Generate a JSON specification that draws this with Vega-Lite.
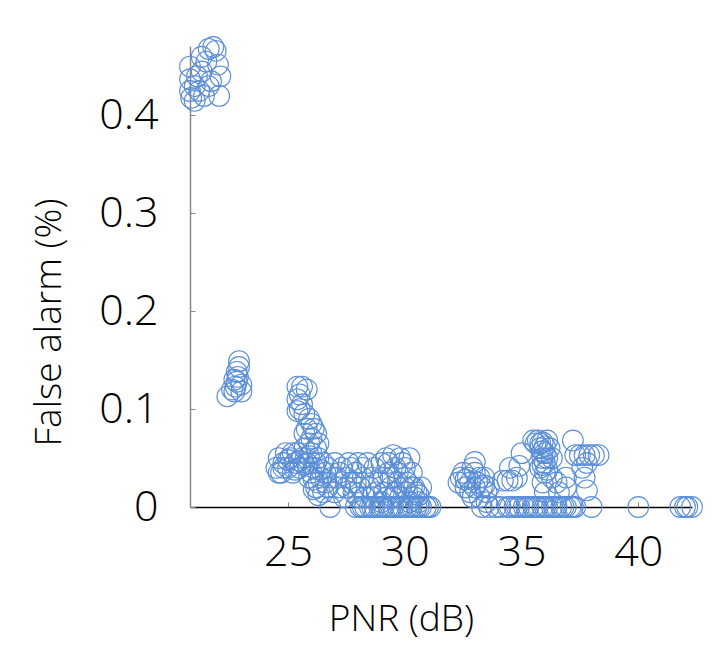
{
  "$schema": "https://vega.github.io/schema/vega-lite/v6.json",
  "width": 502,
  "height": 461,
  "autosize": "none",
  "padding": {"left": 190, "top": 46, "right": 31, "bottom": 139},
  "background": "white",
  "config": {"view": {"stroke": null}, "font": "Open Sans"},
  "data": {"values": [
    {"x":20.8,"y":0.45},{"x":20.8,"y":0.437},{"x":20.8,"y":0.425},{"x":20.85,"y":0.418},{"x":21.0,"y":0.43},{"x":21.1,"y":0.44},{"x":21.2,"y":0.425},{"x":21.3,"y":0.445},{"x":21.4,"y":0.42},{"x":21.5,"y":0.455},{"x":21.6,"y":0.468},{"x":21.8,"y":0.47},{"x":21.9,"y":0.466},{"x":22.0,"y":0.452},{"x":22.1,"y":0.44},{"x":22.05,"y":0.42},{"x":21.7,"y":0.435},{"x":21.0,"y":0.415},{"x":21.3,"y":0.46},{"x":21.6,"y":0.43},
    {"x":22.4,"y":0.113},{"x":22.7,"y":0.118},{"x":22.75,"y":0.123},{"x":22.8,"y":0.128},{"x":22.85,"y":0.133},{"x":22.8,"y":0.138},{"x":22.9,"y":0.143},{"x":22.9,"y":0.149},{"x":23.0,"y":0.125},{"x":22.6,"y":0.12},{"x":22.7,"y":0.13},{"x":23.0,"y":0.118},
    {"x":25.4,"y":0.123},{"x":25.6,"y":0.123},{"x":25.8,"y":0.12},{"x":25.5,"y":0.115},{"x":25.4,"y":0.11},{"x":25.6,"y":0.105},{"x":25.5,"y":0.1},{"x":25.7,"y":0.095},{"x":25.4,"y":0.098},{"x":25.9,"y":0.09},{"x":26.0,"y":0.085},{"x":25.8,"y":0.08},{"x":26.1,"y":0.08},{"x":26.2,"y":0.075},{"x":26.0,"y":0.07},{"x":25.7,"y":0.075},{"x":26.3,"y":0.065},{"x":25.9,"y":0.065},{"x":26.2,"y":0.06},
    {"x":24.5,"y":0.04},{"x":24.6,"y":0.05},{"x":24.7,"y":0.035},{"x":24.8,"y":0.045},{"x":24.9,"y":0.055},{"x":25.0,"y":0.04},{"x":25.1,"y":0.05},{"x":25.2,"y":0.035},{"x":25.3,"y":0.045},{"x":25.4,"y":0.055},{"x":25.5,"y":0.04},{"x":25.6,"y":0.05},{"x":25.7,"y":0.06},{"x":25.8,"y":0.045},{"x":25.9,"y":0.03},{"x":26.0,"y":0.035},{"x":26.1,"y":0.04},{"x":26.2,"y":0.02},{"x":26.3,"y":0.025},{"x":26.4,"y":0.03},{"x":26.5,"y":0.015},{"x":26.6,"y":0.035},{"x":26.7,"y":0.02},{"x":26.0,"y":0.055},{"x":26.3,"y":0.05},{"x":26.5,"y":0.045},
    {"x":24.6,"y":0.035},{"x":24.8,"y":0.04},{"x":25.0,"y":0.048},{"x":25.2,"y":0.055},{"x":25.3,"y":0.038},{"x":25.5,"y":0.047},{"x":25.7,"y":0.043},{"x":25.9,"y":0.052},{"x":26.1,"y":0.028},{"x":26.2,"y":0.045},{"x":26.4,"y":0.038},{"x":26.6,"y":0.025},{"x":26.7,"y":0.04},{"x":26.9,"y":0.03},{"x":26.1,"y":0.018},{"x":26.3,"y":0.012},
    {"x":27.0,"y":0.045},{"x":27.1,"y":0.03},{"x":27.2,"y":0.02},{"x":27.3,"y":0.04},{"x":27.4,"y":0.01},{"x":27.5,"y":0.03},{"x":27.6,"y":0.045},{"x":27.7,"y":0.025},{"x":27.8,"y":0.015},{"x":27.9,"y":0.035},{"x":28.0,"y":0.045},{"x":28.1,"y":0.02},{"x":28.2,"y":0.03},{"x":28.3,"y":0.01},{"x":27.0,"y":0.015},
    {"x":27.2,"y":0.035},{"x":27.5,"y":0.02},{"x":27.7,"y":0.04},{"x":27.9,"y":0.025},{"x":28.0,"y":0.01},{"x":28.2,"y":0.04},{"x":28.5,"y":0.02},{"x":28.7,"y":0.04},{"x":28.9,"y":0.025},{"x":29.1,"y":0.015},{"x":29.3,"y":0.045},{"x":29.4,"y":0.03},{"x":29.6,"y":0.015},{"x":29.7,"y":0.035},{"x":29.8,"y":0.05},{"x":30.0,"y":0.04},{"x":30.1,"y":0.025},{"x":30.3,"y":0.035},{"x":30.4,"y":0.02},{"x":30.6,"y":0.012},{"x":30.7,"y":0.02},{"x":29.2,"y":0.01},{"x":28.6,"y":0.01},{"x":30.2,"y":0.005},
    {"x":28.4,"y":0.045},{"x":28.6,"y":0.03},{"x":28.8,"y":0.015},{"x":29.0,"y":0.045},{"x":29.1,"y":0.03},{"x":29.2,"y":0.05},{"x":29.3,"y":0.035},{"x":29.4,"y":0.02},{"x":29.5,"y":0.053},{"x":29.6,"y":0.04},{"x":29.7,"y":0.025},{"x":29.8,"y":0.01},{"x":29.9,"y":0.045},{"x":30.0,"y":0.03},{"x":30.1,"y":0.015},{"x":30.2,"y":0.05},{"x":30.3,"y":0.02},{"x":30.4,"y":0.01},{"x":30.5,"y":0.015},{"x":30.6,"y":0.005},{"x":29.0,"y":0.005},{"x":29.5,"y":0.01},{"x":30.0,"y":0.02},
    {"x":26.8,"y":0},{"x":27.9,"y":0},{"x":28.1,"y":0},{"x":28.3,"y":0},{"x":28.5,"y":0},{"x":28.7,"y":0},{"x":28.9,"y":0},{"x":29.1,"y":0},{"x":29.3,"y":0},{"x":29.5,"y":0},{"x":29.7,"y":0},{"x":29.9,"y":0},{"x":30.1,"y":0},{"x":30.3,"y":0},{"x":30.5,"y":0},{"x":30.7,"y":0},{"x":30.9,"y":0},{"x":31.1,"y":0},
    {"x":28.2,"y":0},{"x":28.6,"y":0},{"x":29.0,"y":0},{"x":29.4,"y":0},{"x":29.8,"y":0},{"x":30.2,"y":0},{"x":30.6,"y":0},{"x":31.0,"y":0},
    {"x":32.3,"y":0.025},{"x":32.5,"y":0.035},{"x":32.6,"y":0.02},{"x":32.7,"y":0.03},{"x":32.8,"y":0.015},{"x":32.9,"y":0.04},{"x":33.0,"y":0.046},{"x":33.1,"y":0.025},{"x":33.2,"y":0.01},{"x":33.3,"y":0.02},{"x":33.4,"y":0.03},{"x":33.5,"y":0.015},{"x":33.6,"y":0.02},{"x":33.5,"y":0.005},{"x":32.9,"y":0.01},
    {"x":32.4,"y":0.03},{"x":32.6,"y":0.028},{"x":32.8,"y":0.025},{"x":33.0,"y":0.02},{"x":33.2,"y":0.03},{"x":33.4,"y":0.022},{"x":33.0,"y":0.035},
    {"x":33.3,"y":0},{"x":33.6,"y":0},{"x":33.9,"y":0},{"x":34.1,"y":0},
    {"x":34.2,"y":0.027},{"x":34.4,"y":0.027},{"x":34.6,"y":0.027},{"x":34.8,"y":0.03},{"x":34.5,"y":0.04},{"x":34.9,"y":0.042},{"x":35.0,"y":0.055},{"x":35.5,"y":0.068},{"x":35.7,"y":0.068},{"x":35.9,"y":0.066},{"x":36.1,"y":0.068},{"x":35.8,"y":0.06},{"x":36.0,"y":0.055},{"x":35.9,"y":0.05},{"x":36.0,"y":0.045},{"x":35.8,"y":0.04},{"x":36.0,"y":0.035},{"x":35.9,"y":0.025},{"x":36.0,"y":0.015},{"x":36.3,"y":0.03},{"x":36.5,"y":0.025},{"x":36.6,"y":0.015},{"x":36.2,"y":0.06},{"x":36.3,"y":0.05},
    {"x":35.6,"y":0.065},{"x":35.8,"y":0.065},{"x":36.0,"y":0.062},{"x":35.9,"y":0.057},{"x":36.1,"y":0.05},{"x":35.9,"y":0.043},{"x":36.1,"y":0.038},
    {"x":34.5,"y":0},{"x":34.7,"y":0},{"x":34.9,"y":0},{"x":35.1,"y":0},{"x":35.3,"y":0},{"x":35.5,"y":0},{"x":35.7,"y":0},{"x":35.9,"y":0},{"x":36.1,"y":0},{"x":36.3,"y":0},{"x":36.5,"y":0},{"x":36.7,"y":0},{"x":36.9,"y":0},{"x":37.1,"y":0},{"x":37.3,"y":0},
    {"x":34.4,"y":0},{"x":34.8,"y":0},{"x":35.2,"y":0},{"x":35.6,"y":0},{"x":36.0,"y":0},{"x":36.4,"y":0},{"x":36.8,"y":0},{"x":37.2,"y":0},
    {"x":37.2,"y":0.068},{"x":37.3,"y":0.053},{"x":37.5,"y":0.053},{"x":37.7,"y":0.053},{"x":37.9,"y":0.053},{"x":38.1,"y":0.053},{"x":38.3,"y":0.053},{"x":37.6,"y":0.04},{"x":37.8,"y":0.045},{"x":37.7,"y":0.03},{"x":37.8,"y":0.017},{"x":38.0,"y":0},{"x":36.9,"y":0.03},{"x":36.9,"y":0.02},
    {"x":40.0,"y":0},{"x":41.8,"y":0},{"x":42.0,"y":0},{"x":42.1,"y":0},{"x":42.3,"y":0}
  ]},
  "mark": {"type": "point", "shape": "circle", "filled": false, "size": 430, "color": "#5a8ed8", "strokeWidth": 1.1, "opacity": 1, "clip": false},
  "encoding": {
    "x": {"field": "x", "type": "quantitative",
      "scale": {"domain": [20.8, 42.3], "nice": false, "zero": false},
      "axis": {"title": "PNR (dB)", "values": [25, 30, 35, 40], "grid": false,
        "domainColor": "#000000", "domainWidth": 1.5, "tickColor": "#888888", "tickSize": -5,
        "labelFont": "Open Sans", "labelFontWeight": 300, "labelFontSize": 43, "labelColor": "#000000",
        "labelBaseline": "alphabetic", "labelPadding": 63, "labelDx": -7,
        "titleFont": "Open Sans", "titleFontWeight": 300, "titleFontSize": 37, "titleColor": "#000000",
        "titleX": 211, "titleY": 123, "titleBaseline": "alphabetic", "titleAnchor": "middle", "titleAlign": "center"}},
    "y": {"field": "y", "type": "quantitative",
      "scale": {"domain": [0, 0.471], "nice": false, "zero": true},
      "axis": {"title": "False alarm (%)", "values": [0, 0.1, 0.2, 0.3, 0.4], "format": "~g", "grid": false,
        "domainColor": "#888888", "domainWidth": 1.5, "tickColor": "#888888", "tickSize": -5,
        "labelFont": "Open Sans", "labelFontWeight": 300, "labelFontSize": 43, "labelColor": "#000000",
        "labelPadding": 37, "labelDy": 3,
        "titleFont": "Open Sans", "titleFontWeight": 300, "titleFontSize": 37, "titleColor": "#000000",
        "titleX": -130, "titleY": 276, "titleBaseline": "alphabetic", "titleAngle": -90, "titleAnchor": "middle", "titleAlign": "center"}}
  }
}
